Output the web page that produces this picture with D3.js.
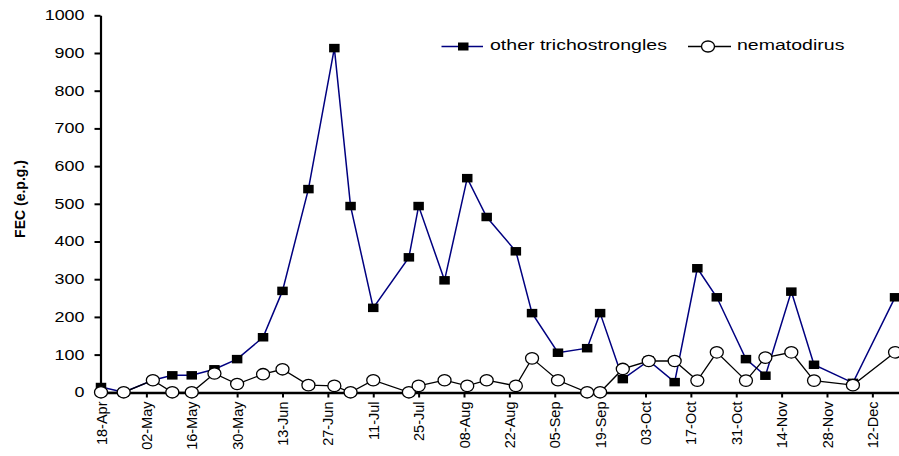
<!DOCTYPE html>
<html lang="en">
  <head>
    <meta charset="utf-8">
    <title>FEC</title>
    <style>
      body { margin: 0; background: white; }
      text { font-family: "Liberation Sans", Arial, sans-serif; fill: black; }
    </style>
  </head>
  <body>
    <svg id="container" width="899" height="456"></svg>
  </body>
  <script src="https://d3js.org/d3.v7.min.js"></script>
  <script>
    // sampling dates (year only used for parsing)
    let sampleDates = ["18-Apr","25-Apr","04-May","10-May","16-May","23-May","30-May","07-Jun","13-Jun","21-Jun",
      "29-Jun","04-Jul","11-Jul","22-Jul","25-Jul","02-Aug","09-Aug","15-Aug","24-Aug","29-Aug",
      "06-Sep","15-Sep","19-Sep","26-Sep","04-Oct","12-Oct","19-Oct","25-Oct","03-Nov","09-Nov",
      "17-Nov","24-Nov","06-Dec","19-Dec"]

    let trichostrongles = [14, 0, 32, 45, 45, 61, 88, 146, 269, 539,
      913, 494, 224, 358, 494, 297, 568, 465, 374, 210,
      105, 117, 210, 35, 84, 27, 329, 252, 88, 44,
      267, 73, 25, 252]

    let nematodirus = [0, 0, 32, 0, 0, 50, 22, 48, 61, 19,
      17, 0, 32, 0, 17, 32, 17, 32, 17, 90,
      32, 0, 0, 62, 83, 83, 31, 106, 31, 92,
      106, 31, 19, 106]

    let tickLabels = ["18-Apr","02-May","16-May","30-May","13-Jun","27-Jun","11-Jul","25-Jul","08-Aug",
      "22-Aug","05-Sep","19-Sep","03-Oct","17-Oct","31-Oct","14-Nov","28-Nov","12-Dec"]

    let yTicks = [0, 100, 200, 300, 400, 500, 600, 700, 800, 900, 1000]

    let parse = s => d3.timeParse("%d-%b-%Y")(s + "-2005")
    let dates = sampleDates.map(parse)

    let svg = d3.select("#container")

    let x = d3.scaleTime()
      .domain([parse("18-Apr"), parse("26-Dec")])
      .range([101, 101 + 3.241 * 252])

    let y = d3.scaleLinear().domain([0, 1000]).range([392.3, 15.3])

    // stretch text horizontally like the original
    function stretch(sel, k) {
      sel.each(function () {
        let t = d3.select(this)
        let tx = +t.attr("x") || 0
        t.attr("x", 0).attr("transform", "translate(" + tx + ",0) scale(" + k + ",1)")
      })
    }

    // y axis
    let yAxis = d3.axisLeft(y).tickValues(yTicks).tickFormat(d3.format("d"))
      .tickSize(6).tickSizeOuter(0).tickPadding(10)
    let gy = svg.append("g").attr("transform", "translate(100.5,0)").call(yAxis)
    gy.select(".domain").attr("stroke-width", 2.2)
    gy.selectAll(".tick line").attr("stroke-width", 2)
    gy.selectAll(".tick text").style("font-size", "14px")
    stretch(gy.selectAll(".tick text"), 1.28)

    // x axis
    let xAxis = d3.axisBottom(x)
      .tickValues(tickLabels.map(parse))
      .tickFormat(d3.timeFormat("%d-%b"))
      .tickSize(5).tickSizeOuter(0)
    let gx = svg.append("g").attr("transform", "translate(0,392.5)").call(xAxis)
    gx.select(".domain").attr("stroke-width", 2.5)
    gx.selectAll(".tick line").attr("stroke-width", 2)
    gx.selectAll(".tick text")
      .style("font-size", "14.5px")
      .attr("text-anchor", "end")
      .attr("x", 0).attr("y", 0).attr("dy", "0.35em")
      .attr("transform", "translate(0,9) rotate(-90)")

    // axis title
    svg.append("text")
      .attr("transform", "translate(25,199) rotate(-90)")
      .attr("text-anchor", "middle")
      .style("font-size", "14px")
      .style("font-weight", "bold")
      .text("FEC (e.p.g.)")

    let line = values => d3.line()
      .x((d, i) => x(dates[i]))
      .y(d => y(d))(values)

    svg.append("path")
      .attr("d", line(trichostrongles))
      .attr("fill", "none")
      .attr("stroke", "#000080")
      .attr("stroke-width", 1.5)

    svg.append("path")
      .attr("d", line(nematodirus))
      .attr("fill", "none")
      .attr("stroke", "black")
      .attr("stroke-width", 1.3)

    svg.selectAll("rect.tri").data(trichostrongles).enter()
      .append("rect")
      .attr("class", "tri")
      .attr("x", (d, i) => x(dates[i]) - 5.25)
      .attr("y", d => y(d) - 4.25)
      .attr("width", 10.5)
      .attr("height", 8.5)
      .attr("fill", "black")

    svg.selectAll("ellipse.nem").data(nematodirus).enter()
      .append("ellipse")
      .attr("class", "nem")
      .attr("cx", (d, i) => x(dates[i]))
      .attr("cy", d => y(d))
      .attr("rx", 6.5)
      .attr("ry", 5.7)
      .attr("fill", "white")
      .attr("stroke", "black")
      .attr("stroke-width", 1.3)

    // legend
    let legend = svg.append("g")
    legend.append("line").attr("x1", 441.5).attr("x2", 483).attr("y1", 46.5).attr("y2", 46.5)
      .attr("stroke", "#000080").attr("stroke-width", 1.5)
    legend.append("rect").attr("x", 458).attr("y", 42.5).attr("width", 10.5).attr("height", 8)
      .attr("fill", "black")
    legend.append("text").attr("x", 490).attr("y", 50.5).style("font-size", "15.5px")
      .text("other trichostrongles")

    legend.append("line").attr("x1", 688).attr("x2", 731).attr("y1", 46.5).attr("y2", 46.5)
      .attr("stroke", "black").attr("stroke-width", 1.3)
    legend.append("ellipse").attr("cx", 708).attr("cy", 46.5).attr("rx", 6.5).attr("ry", 5.5)
      .attr("fill", "white").attr("stroke", "black").attr("stroke-width", 1.3)
    legend.append("text").attr("x", 737).attr("y", 50.5).style("font-size", "15.5px")
      .text("nematodirus")
    stretch(legend.selectAll("text"), 1.26)
  </script>
</html>
